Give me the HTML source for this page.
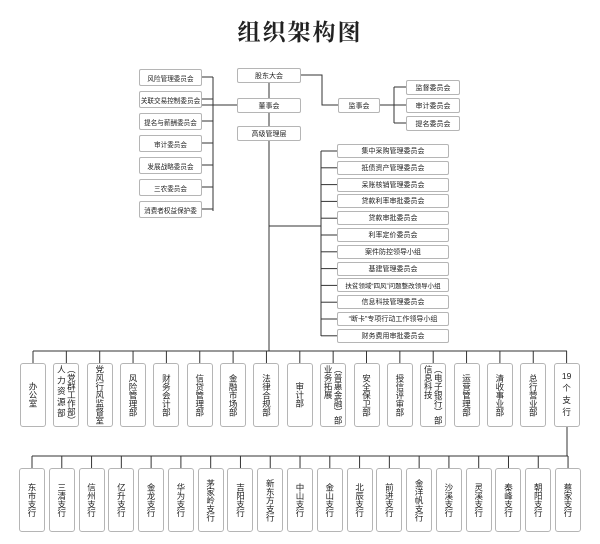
<!DOCTYPE html>
<html><head><meta charset="utf-8"><style>
body{margin:0;width:600px;height:544px;background:#fff;position:relative;overflow:hidden;font-family:"Liberation Sans","Noto Sans CJK SC",sans-serif;color:#222}
.b{position:absolute;border:1px solid #b5b5b5;border-radius:2px;box-sizing:border-box;background:#fff;font-size:7px;display:flex;align-items:center;justify-content:center;white-space:nowrap;overflow:hidden}
.v{position:absolute;border:1px solid #b5b5b5;border-radius:3px;box-sizing:border-box;background:#fff;font-size:8.5px;display:flex;justify-content:center;align-items:center}
.v span{writing-mode:vertical-rl;line-height:10px;letter-spacing:0}
svg{position:absolute;left:0;top:0}
.t{position:absolute;left:0;width:600px;top:14px;text-align:center;font-family:"Noto Serif CJK SC",serif;font-weight:bold;font-size:23px;letter-spacing:2px}
</style></head><body>
<div class="t">组织架构图</div>
<svg width="600" height="544" stroke="#333" stroke-width="1" fill="none">
<line x1="269" y1="82" x2="269" y2="351"/>
<polyline points="301,75 322,75 322,105 338,105"/>
<line x1="202" y1="105" x2="237" y2="105"/>
<line x1="213" y1="77" x2="213" y2="211"/>
<line x1="380" y1="105" x2="394" y2="105"/>
<line x1="394" y1="87" x2="394" y2="123"/>
<line x1="394" y1="87" x2="406" y2="87"/><line x1="394" y1="105" x2="406" y2="105"/><line x1="394" y1="123" x2="406" y2="123"/>
<line x1="269" y1="226" x2="321" y2="226"/>
<line x1="321" y1="151" x2="321" y2="336"/>
<line x1="33" y1="351" x2="567" y2="351"/>
<line x1="567" y1="427" x2="567" y2="456"/>
<line x1="32" y1="456" x2="568" y2="456"/>
<g id="lines"></g>
</svg>
<div id="c"></div>
<script>
var h='',L='';
h+='<div class="b" style="left:237px;top:68px;width:64px;height:15px">股东大会</div>';
h+='<div class="b" style="left:237px;top:98px;width:64px;height:15px">董事会</div>';
h+='<div class="b" style="left:237px;top:126px;width:64px;height:15px">高级管理层</div>';
h+='<div class="b" style="left:338px;top:98px;width:42px;height:15px">监事会</div>';
var lc=['风险管理委员会','关联交易控制委员会','提名与薪酬委员会','审计委员会','发展战略委员会','三农委员会','消费者权益保护委'];
lc.forEach(function(t,i){var y=69+22*i;h+='<div class="b" style="left:139px;top:'+y+'px;width:63px;height:17px;font-size:6.6px">'+t+'</div>';L+='<line x1="202" y1="'+(y+8)+'" x2="213" y2="'+(y+8)+'"/>';});
['监督委员会','审计委员会','提名委员会'].forEach(function(t,i){var y=80+18*i;h+='<div class="b" style="left:406px;top:'+y+'px;width:54px;height:15px">'+t+'</div>';});
var mc=['集中采购管理委员会','抵债资产管理委员会','呆账核销管理委员会','贷款利率审批委员会','贷款审批委员会','利率定价委员会','案件防控领导小组','基建管理委员会','扶贫领域“四风”问题整改领导小组','信息科技管理委员会','“断卡”专项行动工作领导小组','财务费用审批委员会'];
mc.forEach(function(t,i){var y=144+16.8*i;h+='<div class="b" style="left:337px;top:'+y+'px;width:112px;height:14px;font-size:'+(i==8?6.5:7)+'px">'+t+'</div>';L+='<line x1="321" y1="'+(y+7)+'" x2="337" y2="'+(y+7)+'"/>';});
var d=['办公室','（党群工作部）<br>人 力 资 源 部','党风行风监督室','风险管理部','财务会计部','信贷管理部','金融市场部','法律合规部','审计部','（普惠金融）部<br>业务拓展','安全保卫部','授信评审部','（电子银行）部<br>信息科技','运营管理部','清收事业部','总行营业部','19<br>个<br>支<br>行'];
d.forEach(function(t,i){var x=33+33.35*i;var st=(i==16)?'writing-mode:horizontal-tb;text-align:center;line-height:12px':'';h+='<div class="v" style="left:'+(x-13)+'px;top:363px;width:26px;height:64px;'+(i==16?'align-items:flex-start;padding-top:6px':'')+'"><span style="'+st+'">'+t+'</span></div>';L+='<line x1="'+x+'" y1="351" x2="'+x+'" y2="363"/>';});
var br=['东市支行','三清支行','信州支行','亿升支行','金龙支行','华为支行','茅家岭支行','吉阳支行','新东方支行','中山支行','金山支行','北辰支行','前进支行','金洋帆支行','沙溪支行','灵溪支行','秦峰支行','朝阳支行','蔡家支行'];
br.forEach(function(t,i){var x=32+29.78*i;h+='<div class="v" style="left:'+(x-13)+'px;top:468px;width:26px;height:64px"><span>'+t+'</span></div>';L+='<line x1="'+x+'" y1="456" x2="'+x+'" y2="468"/>';});
document.getElementById('c').innerHTML=h;
document.getElementById('lines').innerHTML=L;
</script>
</body></html>
